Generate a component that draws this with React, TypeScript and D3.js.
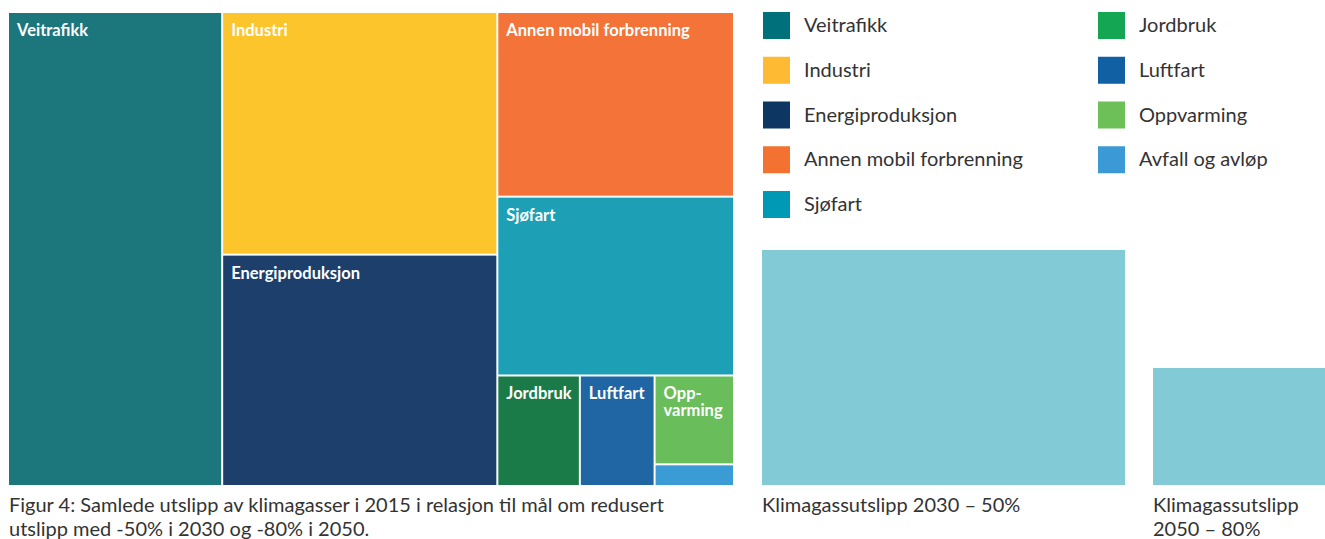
import React from "react";
import * as d3 from "d3";

// ---- data ----
const sectors = [
  "Veitrafikk",
  "Industri",
  "Energiproduksjon",
  "Annen mobil forbrenning",
  "Sjøfart",
  "Jordbruk",
  "Luftfart",
  "Oppvarming",
  "Avfall og avløp",
];
// share of 2015 emissions (%)
const shares = [29.5, 19.4, 18.5, 12.7, 12.3, 2.65, 2.4, 2.05, 0.5];
// grouping path used to reproduce the nested slice/dice arrangement
const groupPath = ["", "A", "A", "B", "B", "B.C", "B.C", "B.C.D", "B.C.D"];
// label inside tiles (null = no label)
const tileLabels = [
  ["Veitrafikk"],
  ["Industri"],
  ["Energiproduksjon"],
  ["Annen mobil forbrenning"],
  ["Sjøfart"],
  ["Jordbruk"],
  ["Luftfart"],
  ["Opp-", "varming"],
  null,
];
const tileColors = ["#1b777b", "#fcc52b", "#1d3f6b", "#f37339", "#1d9fb6", "#1b7b48", "#2066a5", "#69be5b", "#3a9bd5"];
const legendColors = ["#00717a", "#fdba32", "#0d3663", "#f37232", "#0099b5", "#14a653", "#1060a3", "#6dbf57", "#3b99d5"];

const targetLabels = [["Klimagassutslipp 2030 – 50%"], ["Klimagassutslipp", "2050 – 80%"]];
const caption = [
  "Figur 4: Samlede utslipp av klimagasser i 2015 i relasjon til mål om redusert",
  "utslipp med -50% i 2030 og -80% i 2050.",
];

// ---- layout ----
const W = 1325;
const H = 539;
const TM = { x: 9, y: 13, w: 724, h: 472 };
const targetBoxes = [
  { x: 762, w: 363, h: 235 },
  { x: 1153, w: 260, h: 117 },
];
const FONT = "Lato, 'Open Sans', sans-serif";

type Node = { name: string; children?: any[]; value?: number; idx?: number };

function buildTree(): Node {
  const root: Node = { name: "root", children: [] };
  const find = (parent: Node, key: string): Node => {
    let n = parent.children!.find((c: Node) => c.name === "group:" + key);
    if (!n) {
      n = { name: "group:" + key, children: [] };
      parent.children!.push(n);
    }
    return n;
  };
  sectors.forEach((s, i) => {
    let parent = root;
    if (groupPath[i]) {
      const parts = groupPath[i].split(".");
      let key = "";
      parts.forEach((p) => {
        key = key ? key + "." + p : p;
        parent = find(parent, key);
      });
    }
    parent.children!.push({ name: s, value: shares[i], idx: i });
  });
  return root;
}

export default function App() {
  const hierarchy = d3
    .hierarchy<Node>(buildTree())
    .sum((d: any) => (d.children ? 0 : d.value));
  const layout = d3
    .treemap<Node>()
    .size([TM.w, TM.h])
    .paddingInner(2)
    .tile(d3.treemapSliceDice)
    .round(false);
  const root = layout(hierarchy);
  const leaves = root.leaves() as any[];

  const legendRowY = d3.scaleLinear().domain([0, 4]).range([12, 191]);
  const legendCols = [763, 1098];
  const baseY = TM.y + TM.h;

  return (
    <svg
      width={W}
      height={H}
      style={{ position: "absolute", left: 0, top: 0, fontFamily: FONT }}
    >
      <rect x={0} y={0} width={W} height={H} fill="#ffffff" />
      <g transform={`translate(${TM.x},${TM.y})`}>
        {leaves.map((l) => {
          const i = l.data.idx as number;
          const lab = tileLabels[i];
          return (
            <g key={i}>
              <rect
                x={l.x0}
                y={l.y0}
                width={l.x1 - l.x0}
                height={l.y1 - l.y0}
                fill={tileColors[i]}
              />
              {lab && (
                <text
                  x={l.x0 + 8}
                  y={l.y0 + 23}
                  fill="#ffffff"
                  fontSize={16.5}
                  fontWeight={700}
                >
                  {lab.map((t, k) => (
                    <tspan key={k} x={l.x0 + 8} dy={k === 0 ? 0 : 17}>
                      {t}
                    </tspan>
                  ))}
                </text>
              )}
            </g>
          );
        })}
      </g>

      {/* legend */}
      {sectors.map((s, i) => {
        const col = i < 5 ? 0 : 1;
        const row = i < 5 ? i : i - 5;
        const y = legendRowY(row);
        return (
          <g key={s}>
            <rect x={legendCols[col]} y={y} width={27} height={27} fill={legendColors[i]} />
            <text x={legendCols[col] + 41} y={y + 20} fontSize={20} fill="#333333">
              {s}
            </text>
          </g>
        );
      })}

      {/* target boxes */}
      {targetBoxes.map((b, i) => (
        <g key={i}>
          <rect x={b.x} y={baseY - b.h} width={b.w} height={b.h} fill="#82cad6" />
          <text x={b.x} y={baseY + 27} fontSize={20} fill="#333333">
            {targetLabels[i].map((t, k) => (
              <tspan key={k} x={b.x} dy={k === 0 ? 0 : 24}>
                {t}
              </tspan>
            ))}
          </text>
        </g>
      ))}

      {/* caption */}
      <text x={9} y={baseY + 27} fontSize={20} fill="#333333">
        {caption.map((t, k) => (
          <tspan key={k} x={9} dy={k === 0 ? 0 : 24}>
            {t}
          </tspan>
        ))}
      </text>
    </svg>
  );
}
